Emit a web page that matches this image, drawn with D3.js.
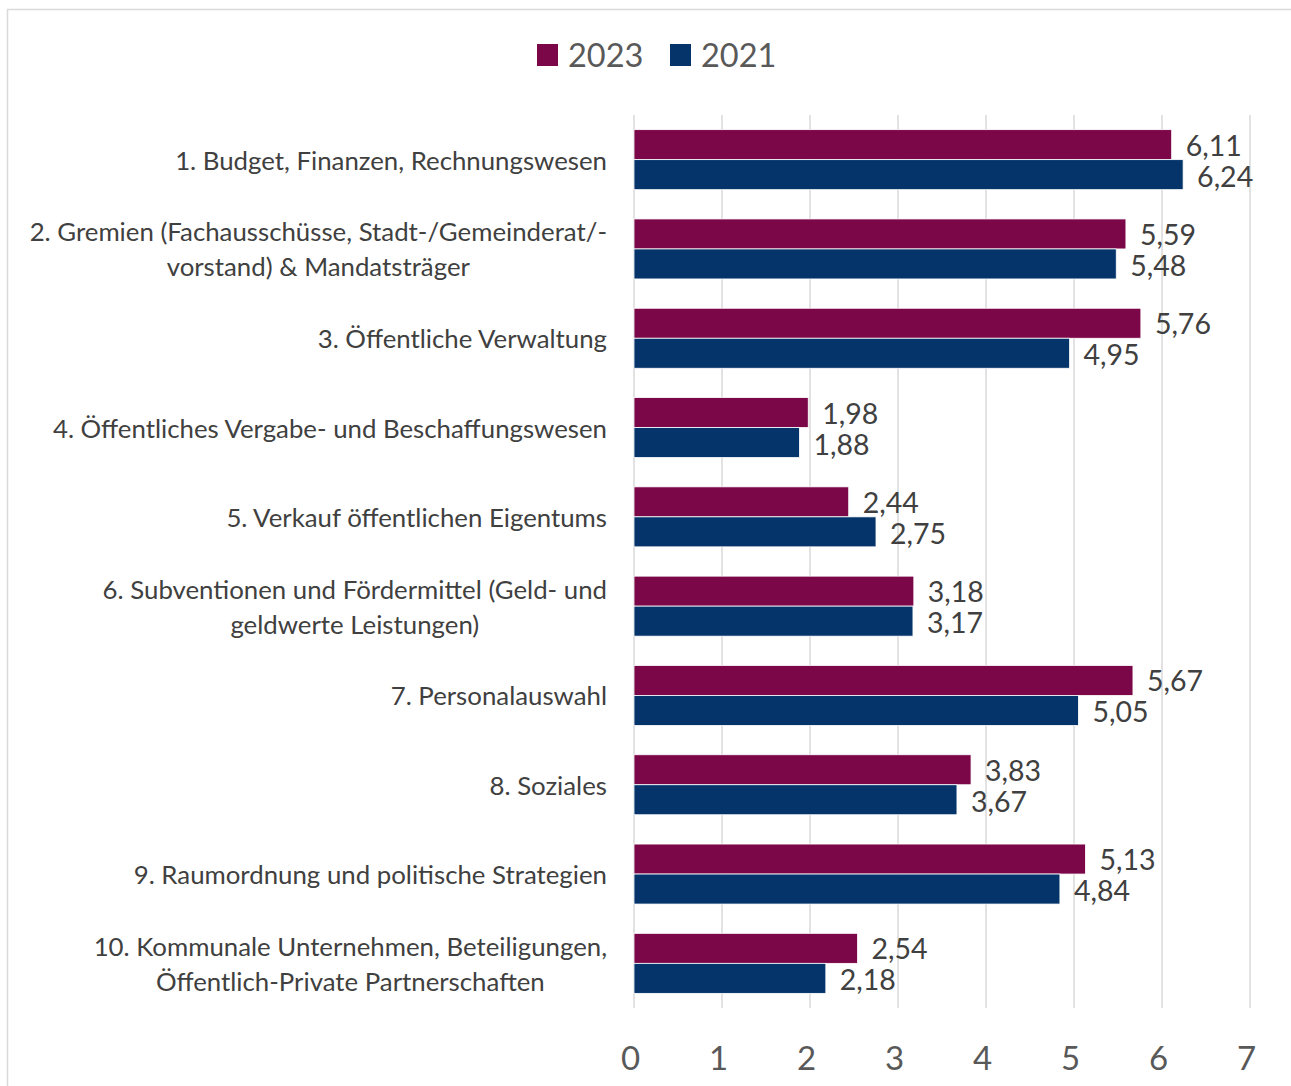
<!DOCTYPE html>
<html><head><meta charset="utf-8">
<script src="https://cdn.jsdelivr.net/npm/d3@7"></script>
<style>body{margin:0;background:#fff}svg{display:block;font-family:Lato,"Open Sans",sans-serif}</style>
</head><body><svg id="c" width="1291" height="1086"></svg>
<script>
const categories = [
  ["1. Budget, Finanzen, Rechnungswesen"],
  ["2. Gremien (Fachausschüsse, Stadt-/Gemeinderat/-", "vorstand) & Mandatsträger"],
  ["3. Öffentliche Verwaltung"],
  ["4. Öffentliches Vergabe- und Beschaffungswesen"],
  ["5. Verkauf öffentlichen Eigentums"],
  ["6. Subventionen und Fördermittel (Geld- und", "geldwerte Leistungen)"],
  ["7. Personalauswahl"],
  ["8. Soziales"],
  ["9. Raumordnung und politische Strategien"],
  ["10. Kommunale Unternehmen, Beteiligungen,", "Öffentlich-Private Partnerschaften"]
];
const values2023 = [6.11, 5.59, 5.76, 1.98, 2.44, 3.18, 5.67, 3.83, 5.13, 2.54];
const values2021 = [6.24, 5.48, 4.95, 1.88, 2.75, 3.17, 5.05, 3.67, 4.84, 2.18];
const seriesNames = ["2023", "2021"];
const seriesColors = ["#7c0748", "#04346a"];
const xTicks = [0, 1, 2, 3, 4, 5, 6, 7];

const svg = d3.select("#c");
const fmt = v => d3.format(".2f")(v).replace(".", ",");

// chart border
svg.append("rect").attr("x", 7.5).attr("y", 9.5).attr("width", 1400).attr("height", 1200)
  .attr("fill", "none").attr("stroke", "#d9d9d9").attr("stroke-width", 1.5);

const x = d3.scaleLinear().domain([0, 7]).range([634, 1250]);
const y = d3.scaleBand().domain(d3.range(categories.length)).range([115, 1008]).paddingInner(0.328).paddingOuter(0.164);
const sub = d3.scaleBand().domain(seriesNames).range([0, y.bandwidth()]);

// gridlines
svg.append("g").selectAll("line").data(xTicks).join("line")
  .attr("x1", d => x(d)).attr("x2", d => x(d)).attr("y1", 115).attr("y2", 1008)
  .attr("stroke", "#d9d9d9").attr("stroke-width", 1.5);

// x axis labels
const ax = svg.append("g").attr("transform", "translate(-4,1039)")
  .call(d3.axisBottom(x).tickValues(xTicks).tickSize(0).tickPadding(0).tickFormat(d3.format("d")));
ax.select(".domain").remove();
ax.selectAll("text").attr("font-size", 33).attr("fill", "#595959").attr("font-family", "Lato,sans-serif").attr("dy", "0.95em");

// bars
const series = [values2023, values2021];
series.forEach((vals, si) => {
  const g = svg.append("g");
  g.selectAll("rect").data(vals).join("rect")
    .attr("x", x(0)).attr("y", (d, i) => y(i) + sub(seriesNames[si]))
    .attr("width", d => x(d) - x(0)).attr("height", sub.bandwidth())
    .attr("fill", seriesColors[si]).attr("stroke", "#ffffff").attr("stroke-width", 0.8);
  g.selectAll("text").data(vals).join("text")
    .attr("x", d => x(d) + 14).attr("y", (d, i) => y(i) + sub(seriesNames[si]) + sub.bandwidth() / 2 + (si === 0 ? 0 : 1))
    .attr("dominant-baseline", "central").attr("font-size", 28.5).attr("fill", "#404040")
    .text(d => fmt(d));
});

// category labels
const cg = svg.append("g");
categories.forEach((lines, i) => {
  const cy = y(i) + y.bandwidth() / 2;
  const t = cg.append("text").attr("font-size", 25.8).attr("fill", "#404040").attr("text-anchor", "middle");
  const lh = 35;
  const n = lines.length;
  lines.forEach((l, k) => {
    t.append("tspan").attr("y", cy + (k - (n - 1) / 2) * lh).attr("dominant-baseline", "central").text(l);
  });
  let maxW = 0;
  t.selectAll("tspan").each(function() { maxW = Math.max(maxW, this.getComputedTextLength()); });
  t.selectAll("tspan").attr("x", 607 - maxW / 2);
});

// legend
const lg = svg.append("g");
const legX = [537, 670];
seriesNames.forEach((s, i) => {
  lg.append("rect").attr("x", legX[i]).attr("y", 44).attr("width", 21).attr("height", 22).attr("fill", seriesColors[i]);
  lg.append("text").attr("x", legX[i] + 31).attr("y", 54).attr("dominant-baseline", "central")
    .attr("font-size", 32.5).attr("fill", "#595959").text(s);
});
</script></body></html>
